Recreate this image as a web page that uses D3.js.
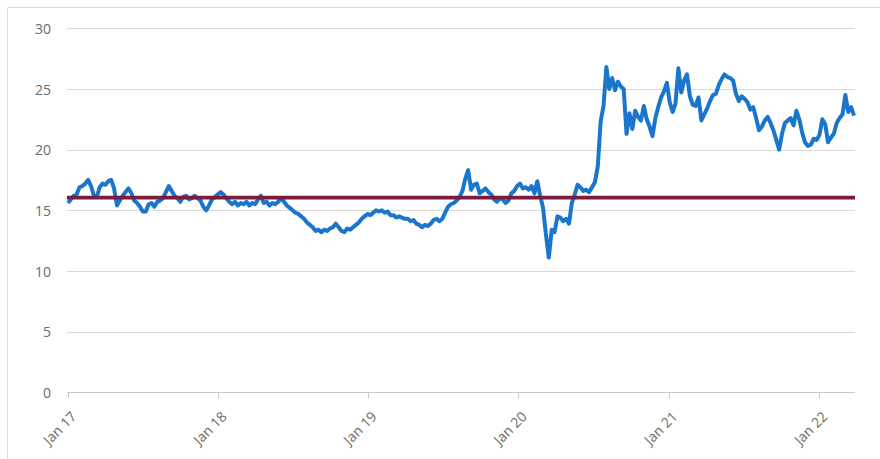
<!DOCTYPE html>
<html>
<head>
  <meta charset="utf-8">
  <title>Weekly series 2017-2022</title>
  <script src="https://cdn.jsdelivr.net/npm/d3@7/dist/d3.min.js"></script>
  <style>
    body { margin: 0; background: #fff; }
    .grid line { stroke: #d9d9d9; stroke-width: 1; shape-rendering: crispEdges; }
    .yaxis text, .xaxis text { fill: #6a6a6a; font-family: "Open Sans", Lato, sans-serif; font-size: 14px; }
    .xaxis path, .xaxis line { stroke: #c8c8c8; shape-rendering: crispEdges; }
  </style>
</head>
<body>
<script>
  // weekly values, one array per year (first week starts 1 Jan 2017)
  var v2017 = [15.6, 15.9, 16.2, 16.3, 16.9, 17.0, 17.2, 17.5, 17.0, 16.2, 16.1, 16.9, 17.2,
               17.1, 17.4, 17.5, 16.8, 15.4, 15.8, 16.2, 16.5, 16.8, 16.4, 15.8, 15.6, 15.3,
               14.9, 14.9, 15.5, 15.6, 15.3, 15.7, 15.8, 16.0, 16.5, 17.0, 16.6, 16.2, 16.0,
               15.7, 16.1, 16.2, 15.9, 16.0, 16.2, 16.0, 15.8, 15.3, 15.0, 15.4, 15.9, 16.1];
  var v2018 = [16.3, 16.5, 16.3, 16.0, 15.7, 15.5, 15.7, 15.4, 15.6, 15.5, 15.7, 15.4, 15.6,
               15.5, 15.9, 16.2, 15.6, 15.7, 15.4, 15.6, 15.5, 15.7, 16.0, 15.7, 15.4, 15.2,
               15.0, 14.8, 14.7, 14.5, 14.3, 14.0, 13.8, 13.6, 13.3, 13.4, 13.2, 13.4, 13.3,
               13.5, 13.6, 13.9, 13.6, 13.3, 13.2, 13.5, 13.4, 13.6, 13.8, 14.0, 14.3, 14.5];
  var v2019 = [14.7, 14.6, 14.8, 15.0, 14.9, 15.0, 14.8, 14.9, 14.6, 14.6, 14.4, 14.5, 14.4,
               14.3, 14.3, 14.1, 14.2, 13.9, 13.8, 13.6, 13.8, 13.7, 13.9, 14.2, 14.3, 14.1,
               14.3, 14.8, 15.3, 15.5, 15.6, 15.8, 16.1, 16.6, 17.6, 18.3, 16.7, 17.1, 17.2,
               16.4, 16.6, 16.8, 16.5, 16.3, 15.9, 15.7, 16.0, 15.9, 15.6, 15.8, 16.4];
  var v2020 = [16.6, 17.0, 17.2, 16.8, 16.9, 16.7, 17.0, 16.4, 17.4, 16.2, 15.2, 13.0, 11.1,
               13.4, 13.2, 14.5, 14.4, 14.1, 14.3, 13.9, 15.6, 16.3, 17.1, 16.9, 16.6, 16.7,
               16.5, 16.9, 17.3, 18.6, 22.3, 23.6, 26.8, 25.0, 25.9, 24.9, 25.6, 25.2, 25.0,
               21.3, 23.0, 21.7, 23.2, 22.7, 22.4, 23.6, 22.5, 21.9, 21.1, 22.6, 23.5, 24.3,
               24.8, 25.5];
  var v2021 = [23.9, 23.1, 23.8, 26.7, 24.7, 25.7, 26.2, 24.4, 23.7, 23.6, 24.3, 22.4, 22.9,
               23.4, 24.0, 24.5, 24.6, 25.3, 25.8, 26.2, 26.0, 25.9, 25.7, 24.6, 24.0, 24.4,
               24.2, 23.9, 23.3, 23.5, 22.6, 21.6, 21.9, 22.4, 22.7, 22.2, 21.6, 20.8, 20.0,
               21.3, 22.2, 22.4, 22.6, 22.0, 23.2, 22.5, 21.4, 20.6, 20.3, 20.4, 20.9, 20.8];
  var v2022 = [21.2, 22.5, 22.1, 20.6, 21.0, 21.3, 22.2, 22.6, 22.9, 24.5, 23.1, 23.5, 22.8];

  var refLevel = 16.05;                       // flat reference line
  var yTicks = [0, 5, 10, 15, 20, 25, 30];
  var xTickYears = [2017, 2018, 2019, 2020, 2021, 2022];

  var values = [].concat(v2017, v2018, v2019, v2020, v2021, v2022);
  var startDate = new Date(2017, 0, 1);
  var data = values.map(function (v, i) {
    return { date: d3.timeWeek.offset(startDate, i), value: v };
  });

  var svgW = 880, svgH = 459;
  var plotLeft = 67, plotRight = 855, plotTop = 28.3, plotBottom = 392.3;

  var svg = d3.select("body").append("svg")
      .attr("width", svgW)
      .attr("height", svgH);

  // outer frame: only top and left edges are visible
  svg.append("line").attr("x1", 7.5).attr("x2", svgW).attr("y1", 7.5).attr("y2", 7.5)
      .attr("stroke", "#dcdcdc");
  svg.append("line").attr("x1", 7.5).attr("x2", 7.5).attr("y1", 7.5).attr("y2", svgH)
      .attr("stroke", "#dcdcdc");

  var x = d3.scaleTime()
      .domain([startDate, data[data.length - 1].date])
      .range([plotLeft + 1, plotRight - 1]);

  var y = d3.scaleLinear()
      .domain([0, 30])
      .range([plotBottom, plotTop]);

  // horizontal gridlines
  svg.append("g")
      .attr("class", "grid")
      .selectAll("line")
      .data(yTicks.filter(function (t) { return t > 0; }))
      .enter().append("line")
      .attr("x1", plotLeft).attr("x2", plotRight)
      .attr("y1", function (d) { return Math.round(y(d)) + 0.5; })
      .attr("y2", function (d) { return Math.round(y(d)) + 0.5; });

  // y axis labels
  svg.append("g")
      .attr("class", "yaxis")
      .attr("transform", "translate(" + (plotLeft - 16) + ",0)")
      .call(d3.axisLeft(y).tickValues(yTicks).tickSize(0).tickPadding(0))
      .call(function (g) { g.select(".domain").remove(); })
      .selectAll("text")
      .attr("dy", "0.36em");

  // x axis
  var xAxis = svg.append("g")
      .attr("class", "xaxis")
      .attr("transform", "translate(0," + (Math.round(plotBottom) + 0.5) + ")")
      .call(d3.axisBottom(x)
        .tickValues(xTickYears.map(function (yr) { return new Date(yr, 0, 1); }))
        .tickFormat(d3.timeFormat("Jan %y"))
        .tickSize(5)
        .tickSizeOuter(0));
  xAxis.select(".domain").attr("d", "M" + plotLeft + ",0H" + plotRight);
  xAxis.selectAll("text")
      .attr("text-anchor", "end")
      .attr("x", 0).attr("y", 0).attr("dy", 0)
      .attr("transform", "translate(9,25) rotate(-45)");

  // main series
  var line = d3.line()
      .x(function (d) { return x(d.date); })
      .y(function (d) { return y(d.value); });

  svg.append("path")
      .datum(data)
      .attr("fill", "none")
      .attr("stroke", "#1a75cc")
      .attr("stroke-width", 4)
      .attr("stroke-linejoin", "round")
      .attr("d", line);

  // reference level
  svg.append("line")
      .attr("x1", plotLeft).attr("x2", plotRight)
      .attr("y1", y(refLevel)).attr("y2", y(refLevel))
      .attr("stroke", "#7a1c3d")
      .attr("stroke-width", 3.8);
</script>
</body>
</html>
